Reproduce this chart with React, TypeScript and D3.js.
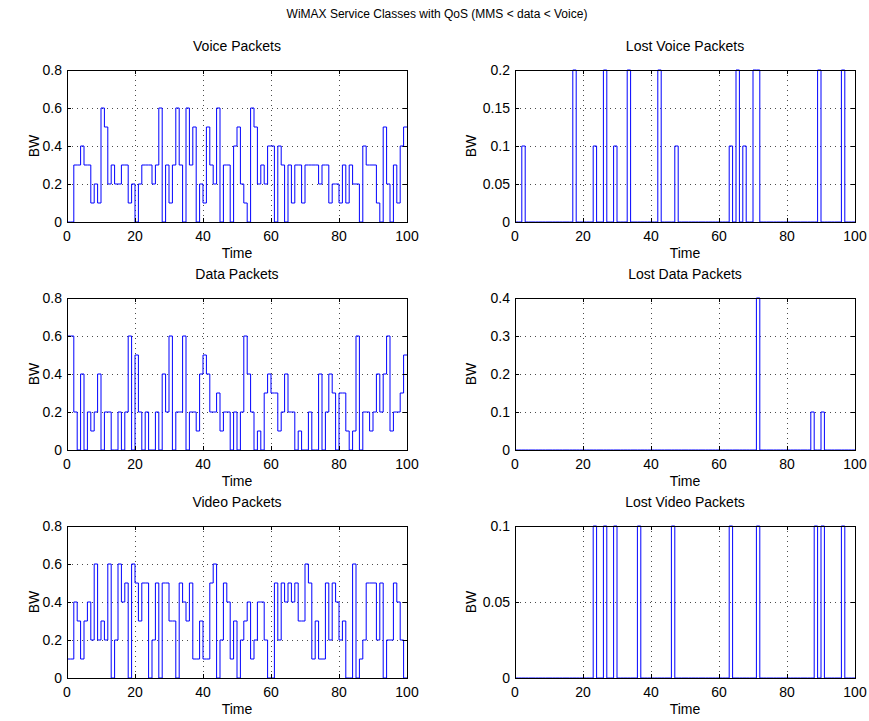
import React from "react";
import * as d3 from "d3";

// time axis
const timeTicks = [0, 20, 40, 60, 80, 100];

// bandwidth per time slot (stairs)
const voicePackets = [
  0, 0, 0.3, 0.3, 0.4, 0.3, 0.3, 0.1, 0.2, 0.1,
  0.6, 0.5, 0.2, 0.3, 0.2, 0.2, 0.3, 0.3, 0.1, 0.2,
  0, 0.2, 0.3, 0.3, 0.3, 0.2, 0.3, 0.6, 0, 0.3,
  0.1, 0.3, 0.6, 0.3, 0, 0.6, 0.3, 0.5, 0, 0.2,
  0.1, 0.5, 0.3, 0.2, 0.6, 0, 0.3, 0.3, 0, 0.4,
  0.5, 0.2, 0.1, 0, 0.6, 0.5, 0.2, 0.3, 0.2, 0.4,
  0.4, 0, 0.4, 0.3, 0, 0.3, 0.1, 0.3, 0.3, 0.1,
  0.3, 0.3, 0.3, 0.3, 0.2, 0.3, 0.3, 0.1, 0.2, 0.2,
  0.1, 0.3, 0.1, 0.3, 0.2, 0.2, 0, 0.4, 0.3, 0.3,
  0.3, 0.1, 0, 0.5, 0.2, 0, 0.3, 0.1, 0.4, 0.5,
];

const dataPackets = [
  0.6, 0.6, 0.2, 0, 0.4, 0, 0.2, 0.1, 0.2, 0.4,
  0, 0.2, 0.2, 0, 0, 0.2, 0, 0.2, 0.6, 0,
  0.5, 0.2, 0, 0.2, 0, 0, 0.2, 0, 0.4, 0.2,
  0.6, 0, 0.2, 0.2, 0.6, 0, 0.2, 0.2, 0.1, 0.4,
  0.5, 0.4, 0.2, 0.2, 0.3, 0.1, 0.2, 0.2, 0, 0.2,
  0, 0.2, 0.6, 0.4, 0.2, 0, 0.1, 0, 0.3, 0.4,
  0.3, 0.3, 0.1, 0.2, 0.4, 0.2, 0.2, 0, 0.1, 0,
  0, 0.2, 0, 0, 0.4, 0, 0.2, 0.4, 0.3, 0,
  0.3, 0.3, 0.1, 0, 0.1, 0.6, 0, 0.2, 0.2, 0.1,
  0.2, 0.4, 0.2, 0.4, 0.6, 0.1, 0.2, 0.2, 0.3, 0.5,
];

const videoPackets = [
  0.1, 0.1, 0.4, 0.3, 0.1, 0.3, 0.4, 0.2, 0.6, 0.2,
  0.3, 0.2, 0.6, 0, 0.2, 0.6, 0.4, 0.5, 0, 0.6,
  0.5, 0.3, 0.5, 0.5, 0, 0.2, 0.5, 0, 0.5, 0.5,
  0.3, 0.3, 0, 0.5, 0.4, 0.3, 0.5, 0.1, 0.1, 0.3,
  0.1, 0.1, 0.5, 0.6, 0, 0.2, 0.5, 0.4, 0.1, 0.3,
  0, 0.2, 0.3, 0.4, 0.1, 0.2, 0.4, 0.4, 0.2, 0,
  0, 0.5, 0.2, 0.5, 0.4, 0.5, 0.4, 0.5, 0.3, 0.3,
  0.6, 0.5, 0.1, 0.3, 0.1, 0.1, 0.5, 0.2, 0.5, 0.4,
  0.2, 0.3, 0, 0, 0.6, 0, 0.1, 0.2, 0.5, 0.5,
  0.5, 0.2, 0.5, 0, 0.2, 0.2, 0.5, 0.4, 0.2, 0,
];

const lostVoicePackets = [
  0, 0, 0.1, 0, 0, 0, 0, 0, 0, 0,
  0, 0, 0, 0, 0, 0, 0, 0.2, 0, 0,
  0, 0, 0, 0.1, 0, 0, 0.2, 0, 0, 0.1,
  0, 0, 0, 0.2, 0, 0, 0, 0, 0, 0,
  0, 0, 0.2, 0, 0, 0, 0, 0.1, 0, 0,
  0, 0, 0, 0, 0, 0, 0, 0, 0, 0,
  0, 0, 0, 0.1, 0, 0.2, 0, 0.1, 0, 0,
  0.2, 0.2, 0, 0, 0, 0, 0, 0, 0, 0,
  0, 0, 0, 0, 0, 0, 0, 0, 0, 0.2,
  0, 0, 0, 0, 0, 0, 0.2, 0, 0, 0,
];

const lostDataPackets = [
  0, 0, 0, 0, 0, 0, 0, 0, 0, 0,
  0, 0, 0, 0, 0, 0, 0, 0, 0, 0,
  0, 0, 0, 0, 0, 0, 0, 0, 0, 0,
  0, 0, 0, 0, 0, 0, 0, 0, 0, 0,
  0, 0, 0, 0, 0, 0, 0, 0, 0, 0,
  0, 0, 0, 0, 0, 0, 0, 0, 0, 0,
  0, 0, 0, 0, 0, 0, 0, 0, 0, 0,
  0, 0.4, 0, 0, 0, 0, 0, 0, 0, 0,
  0, 0, 0, 0, 0, 0, 0, 0.1, 0, 0,
  0.1, 0, 0, 0, 0, 0, 0, 0, 0, 0,
];

const lostVideoPackets = [
  0, 0, 0, 0, 0, 0, 0, 0, 0, 0,
  0, 0, 0, 0, 0, 0, 0, 0, 0, 0,
  0, 0, 0, 0.1, 0, 0, 0.1, 0, 0, 0.1,
  0, 0, 0, 0, 0, 0, 0.1, 0, 0, 0,
  0, 0, 0, 0, 0, 0, 0.1, 0, 0, 0,
  0, 0, 0, 0, 0, 0, 0, 0, 0, 0,
  0, 0, 0, 0.1, 0, 0, 0, 0, 0, 0,
  0, 0.1, 0, 0, 0, 0, 0, 0, 0, 0,
  0, 0, 0, 0, 0, 0, 0, 0, 0.1, 0,
  0.1, 0, 0, 0, 0, 0, 0.1, 0, 0, 0,
];

const bwTicks = [0, 0.2, 0.4, 0.6, 0.8];
const lostVoiceTicks = [0, 0.05, 0.1, 0.15, 0.2];
const lostDataTicks = [0, 0.1, 0.2, 0.3, 0.4];
const lostVideoTicks = [0, 0.05, 0.1];

const W = 869;
const H = 721;
const FONT = "'Liberation Sans', Arial, Helvetica, sans-serif";
const colLeft = [67, 515];
const rowTop = [70, 298, 526];
const axW = 340;
const axH = 152;

const panels = [
  { title: "Voice Packets", values: voicePackets, ticks: bwTicks, col: 0, row: 0 },
  { title: "Lost Voice Packets", values: lostVoicePackets, ticks: lostVoiceTicks, col: 1, row: 0 },
  { title: "Data Packets", values: dataPackets, ticks: bwTicks, col: 0, row: 1 },
  { title: "Lost Data Packets", values: lostDataPackets, ticks: lostDataTicks, col: 1, row: 1 },
  { title: "Video Packets", values: videoPackets, ticks: bwTicks, col: 0, row: 2 },
  { title: "Lost Video Packets", values: lostVideoPackets, ticks: lostVideoTicks, col: 1, row: 2 },
];

function Panel({ title, values, ticks, col, row }: any) {
  const left = colLeft[col];
  const top = rowTop[row];
  const x = d3.scaleLinear().domain([0, 100]).range([left, left + axW]);
  const y = d3.scaleLinear().domain([0, ticks[ticks.length - 1]]).range([top + axH, top]);

  const pts: [number, number][] = values.map((v: number, i: number) => [i, v]);
  pts.push([values.length, values[values.length - 1]]);
  const line = d3
    .line<[number, number]>()
    .x((d) => x(d[0]))
    .y((d) => y(d[1]))
    .curve(d3.curveStepAfter);

  const tl = 4;
  const r = (v: number) => Math.round(v) + 0.5;

  return (
    <g>
      {/* grid */}
      {timeTicks.slice(1, -1).map((t) => (
        <line key={"gx" + t} x1={r(x(t))} x2={r(x(t))} y1={top} y2={top + axH}
          stroke="#000" strokeWidth={1} strokeDasharray="1 4" opacity={0.7} />
      ))}
      {ticks.slice(1, -1).map((t: number) => (
        <line key={"gy" + t} x1={left} x2={left + axW} y1={r(y(t))} y2={r(y(t))}
          stroke="#000" strokeWidth={1} strokeDasharray="1 4" opacity={0.7} />
      ))}

      <path d={line(pts) || ""} fill="none" stroke="#0000ff" strokeWidth={1} />

      {/* box */}
      <rect x={r(left)} y={r(top)} width={axW} height={axH} fill="none" stroke="#000" strokeWidth={1}
        shapeRendering="crispEdges" />

      {/* ticks */}
      {timeTicks.map((t) => (
        <g key={"tx" + t}>
          <line x1={r(x(t))} x2={r(x(t))} y1={top + axH} y2={top + axH - tl} stroke="#000" />
          <line x1={r(x(t))} x2={r(x(t))} y1={top} y2={top + tl} stroke="#000" />
          <text x={x(t)} y={top + axH + 19} textAnchor="middle" fontSize={14} fontFamily={FONT}>
            {String(t)}
          </text>
        </g>
      ))}
      {ticks.map((t: number) => (
        <g key={"ty" + t}>
          <line x1={left} x2={left + tl} y1={r(y(t))} y2={r(y(t))} stroke="#000" />
          <line x1={left + axW} x2={left + axW - tl} y1={r(y(t))} y2={r(y(t))} stroke="#000" />
          <text x={left - 5} y={y(t) + 5} textAnchor="end" fontSize={14} fontFamily={FONT}>
            {String(t)}
          </text>
        </g>
      ))}

      <text x={left + axW / 2} y={top + axH + 36} textAnchor="middle" fontSize={14} fontFamily={FONT}>
        Time
      </text>
      <text
        transform={`translate(${left - (col === 0 ? 28 : 39)},${top + axH / 2}) rotate(-90)`}
        textAnchor="middle"
        fontSize={14}
        fontFamily={FONT}
      >
        BW
      </text>
      <text x={left + axW / 2} y={top - 19} textAnchor="middle" fontSize={14} fontFamily={FONT}>
        {title}
      </text>
    </g>
  );
}

export default function App() {
  return (
    <svg width={W} height={H} style={{ display: "block", position: "absolute", left: 0, top: 0, background: "#fff" }}>
      <rect width={W} height={H} fill="#fff" />
      <text x={437} y={18} textAnchor="middle" fontSize={12} fontFamily={FONT}>
        WiMAX Service Classes with QoS (MMS &lt; data &lt; Voice)
      </text>
      {panels.map((p) => (
        <Panel key={p.title} {...p} />
      ))}
    </svg>
  );
}
